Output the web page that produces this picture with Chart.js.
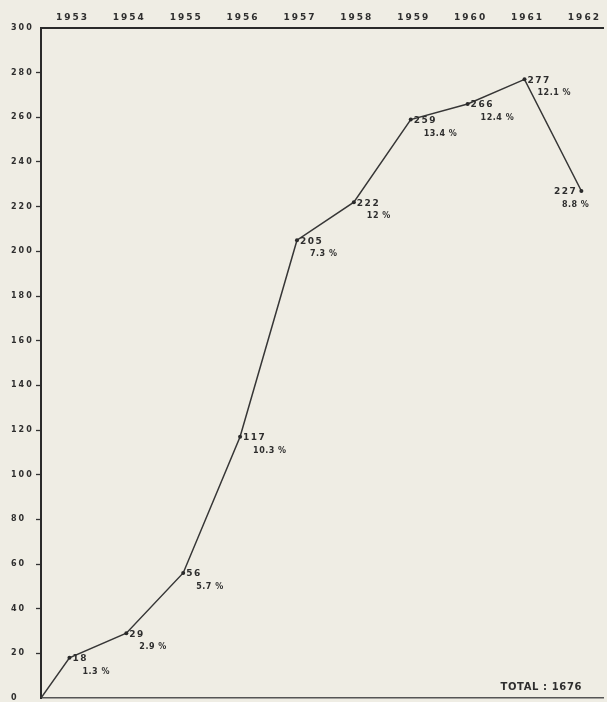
<!DOCTYPE html>
<html>
<head>
<meta charset="utf-8">
<script src="https://cdn.jsdelivr.net/npm/chart.js@4/dist/chart.umd.min.js"></script>
<style>
  html, body { margin: 0; padding: 0; background: #efede4; }
  #wrap { width: 607px; height: 702px; }
</style>
</head>
<body>
<div id="wrap"><canvas id="myChart"></canvas></div>
<script>
// values
const years = ['1953', '1954', '1955', '1956', '1957', '1958', '1959', '1960', '1961', '1962'];
const values = [18, 29, 56, 117, 205, 222, 259, 266, 277, 227];
const shares = ['1.3 %', '2.9 %', '5.7 %', '10.3 %', '7.3 %', '12 %', '13.4 %', '12.4 %', '12.1 %', '8.8 %'];
const yTicks = [0, 20, 40, 60, 80, 100, 120, 140, 160, 180, 200, 220, 240, 260, 280, 300];
const totalLabel = 'TOTAL : 1676';

const ink = '#2e2e2e';
const xMax = 9.88;

// line starts at the origin, then one point per year (centred in its column)
const points = [{ x: 0, y: 0 }].concat(values.map((v, i) => ({ x: i + 0.5, y: v })));

const spacing = {
  id: 'spacing',
  beforeUpdate(chart) { chart.ctx.letterSpacing = '2px'; },
  beforeDraw(chart) { chart.ctx.letterSpacing = '2px'; }
};

const pointLabels = {
  id: 'pointLabels',
  afterDatasetsDraw(chart) {
    const ctx = chart.ctx;
    const meta = chart.getDatasetMeta(0);
    ctx.save();
    ctx.fillStyle = ink;
    ctx.textBaseline = 'middle';
    for (let i = 1; i < meta.data.length; i++) {
      const el = meta.data[i];
      const last = i === meta.data.length - 1;
      ctx.letterSpacing = '1.5px';
      ctx.font = 'bold 9px "DejaVu Sans"';
      ctx.textAlign = last ? 'right' : 'left';
      ctx.fillText(String(values[i - 1]), last ? el.x - 4 : el.x + 3, el.y + 1);
      ctx.font = 'bold 8px "DejaVu Sans"';
      ctx.letterSpacing = '0.5px';
      ctx.fillText(shares[i - 1], last ? el.x + 8 : el.x + 13, el.y + 14);
    }
    // total in the lower right corner
    const a = chart.chartArea;
    ctx.font = 'bold 10px "DejaVu Sans"';
    ctx.letterSpacing = '0.6px';
    ctx.textAlign = 'right';
    ctx.fillText(totalLabel, a.right - 21, a.bottom - 11);
    ctx.restore();
  }
};

const ctx = document.getElementById('myChart').getContext('2d');
new Chart(ctx, {
  type: 'line',
  data: {
    datasets: [{
      data: points,
      borderColor: '#363636',
      borderWidth: 1.5,
      pointRadius: points.map((p, i) => (i === 0 ? 0 : 2)),
      pointBackgroundColor: '#2a2a2a',
      pointBorderWidth: 0,
      tension: 0,
      fill: false
    }]
  },
  options: {
    responsive: true,
    maintainAspectRatio: false,
    animation: false,
    layout: { padding: { left: 11, right: 0, top: 0, bottom: 4 } },
    plugins: { legend: { display: false }, tooltip: { enabled: false } },
    scales: {
      x: {
        type: 'linear',
        position: 'top',
        min: 0,
        max: xMax,
        afterBuildTicks: s => { s.ticks = years.map((y, i) => ({ value: i + 0.5 })); },
        afterFit: s => { s.height = 28; },
        grid: { display: true, drawOnChartArea: false, drawTicks: false, color: 'rgba(0,0,0,0)' },
        border: { display: true, color: '#2a2a2a', width: 2 },
        ticks: {
          color: ink,
          padding: 5,
          labelOffset: 3,
          maxRotation: 0,
          autoSkip: false,
          font: { family: 'DejaVu Sans', size: 9, weight: 'bold' },
          callback: v => years[Math.round(v - 0.5)]
        }
      },
      xb: {
        type: 'linear',
        position: 'bottom',
        min: 0,
        max: xMax,
        afterFit: s => { s.height = 0; },
        grid: { display: false },
        border: { display: true, color: '#555', width: 1.5 },
        ticks: { display: false }
      },
      y: {
        min: 0,
        max: 300,
        afterBuildTicks: s => { s.ticks = yTicks.map(v => ({ value: v })); },
        afterFit: s => { s.width = 30; s.paddingBottom = 0; s.paddingTop = 0; },
        grid: {
          drawOnChartArea: false,
          drawTicks: true,
          tickLength: 5,
          tickWidth: 1.3,
          color: c => (c.tick && (c.tick.value === 300 || c.tick.value === 0) ? 'rgba(0,0,0,0)' : '#333')
        },
        border: { display: true, color: '#2a2a2a', width: 2 },
        ticks: {
          color: ink,
          padding: 4,
          crossAlign: 'far',
          font: { family: 'DejaVu Sans', size: 8, weight: 'bold' }
        }
      }
    }
  },
  plugins: [spacing, pointLabels]
});
</script>
</body>
</html>
